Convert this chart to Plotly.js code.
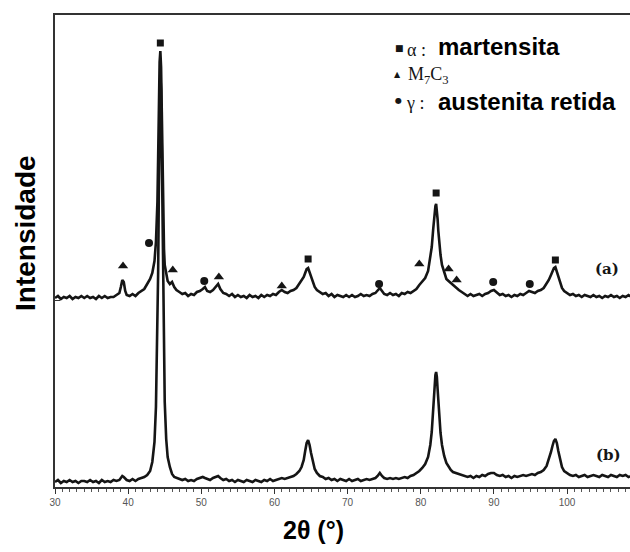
<!DOCTYPE html>
<html>
<head>
<meta charset="utf-8">
<script src="https://cdn.plot.ly/plotly-3.0.1.min.js"></script>
<style>
  html, body { margin: 0; padding: 0; background: #fff; }
  #chart { width: 630px; height: 552px; }
</style>
</head>
<body>
<div id="chart"></div>
<script>
// 2θ grid shared by both diffractograms (degrees)
const twoTheta = [
  30.0,30.4,30.8,31.2,31.6,32.0,32.4,32.8,33.2,33.6,
  34.0,34.4,34.8,35.2,35.6,36.0,36.4,36.8,37.2,37.6,
  38.0,38.4,38.8,39.0,39.2,39.4,39.6,39.8,40.2,40.6,
  41.0,41.4,41.8,42.2,42.6,43.0,43.3,43.6,43.8,44.0,
  44.1,44.2,44.3,44.4,44.5,44.6,44.7,44.8,44.9,45.0,
  45.2,45.4,45.7,46.0,46.3,46.6,47.0,47.4,47.8,48.2,
  48.6,49.0,49.4,49.8,50.2,50.5,50.8,51.2,51.6,52.0,
  52.3,52.6,53.0,53.4,53.8,54.2,54.6,55.0,55.4,55.8,
  56.2,56.6,57.0,57.4,57.8,58.2,58.6,59.0,59.4,59.8,
  60.2,60.6,61.0,61.4,61.8,62.2,62.6,63.0,63.4,63.7,
  64.0,64.2,64.4,64.6,64.8,65.0,65.2,65.5,65.8,66.2,
  66.6,67.0,67.4,67.8,68.2,68.6,69.0,69.4,69.8,70.2,
  70.6,71.0,71.4,71.8,72.2,72.6,73.0,73.4,73.8,74.1,
  74.4,74.7,75.0,75.4,75.8,76.2,76.6,77.0,77.4,77.8,
  78.2,78.6,79.0,79.4,79.8,80.2,80.6,81.0,81.3,81.5,
  81.7,81.8,81.9,82.0,82.1,82.2,82.3,82.4,82.5,82.7,
  82.9,83.2,83.5,83.8,84.1,84.4,84.8,85.2,85.6,86.0,
  86.4,86.8,87.2,87.6,88.0,88.4,88.8,89.2,89.6,90.0,
  90.4,90.8,91.2,91.6,92.0,92.4,92.8,93.2,93.6,94.0,
  94.4,94.8,95.2,95.6,96.0,96.4,96.8,97.2,97.5,97.8,
  98.0,98.2,98.4,98.6,98.8,99.0,99.3,99.6,100.0,100.4,
  100.8,101.2,101.6,102.0,102.4,102.8,103.2,103.6,104.0,104.4,
  104.8,105.2,105.6,106.0,106.4,106.8,107.2,107.6,108.0,108.4,
  108.8
];

// Pattern (a), drawn with its vertical offset (arb. units)
const intensityA = [
  189,191,188,190,189,191,188,190,189,191,
  189,191,189,190,188,191,189,191,189,190,
  190,192,194,200,207,205,196,192,191,193,
  191,194,196,198,203,208,214,226,245,285,
  330,385,425,436,420,375,320,270,238,222,
  212,206,203,205,200,197,195,193,194,191,
  193,192,195,196,198,200,196,195,197,200,
  203,198,194,193,191,193,190,192,190,191,
  189,192,190,191,189,192,190,192,191,193,
  192,195,197,195,194,196,197,199,203,206,
  210,214,218,219,215,210,205,200,197,195,
  193,194,191,193,190,192,191,190,192,190,
  192,190,191,193,191,192,191,193,194,196,
  199,196,193,192,194,192,193,191,194,193,
  195,194,196,198,202,205,209,216,228,240,
  258,268,276,281,283,278,268,256,246,232,
  222,214,208,206,204,202,199,197,195,193,
  191,193,191,192,193,191,193,194,196,197,
  194,192,193,191,192,190,192,191,193,192,
  194,196,195,194,196,197,199,203,207,212,
  216,219,220,215,209,204,199,196,194,192,
  193,191,192,190,192,191,190,192,190,191,
  189,191,190,192,190,191,189,191,190,192,
  190
];

// Pattern (b)
const intensityB = [
  5,7,4,6,5,7,5,6,4,6,
  6,5,7,5,6,4,7,5,6,5,
  7,6,7,9,11,10,8,7,6,8,
  6,8,9,10,12,16,25,45,80,150,
  215,300,370,412,398,330,250,175,130,85,
  48,30,20,13,10,9,8,7,8,6,
  7,6,8,9,10,9,8,7,9,10,
  11,9,7,8,6,7,5,7,6,5,
  7,6,5,7,6,5,7,6,8,6,
  7,8,9,8,9,10,11,13,16,20,
  27,36,44,47,42,34,26,18,14,11,
  10,8,9,7,8,6,8,7,6,8,
  6,7,8,6,7,8,7,8,9,11,
  14,11,9,8,9,8,9,8,9,10,
  9,11,12,14,16,19,23,30,42,55,
  78,92,104,112,115,110,98,84,72,54,
  42,31,24,20,17,15,14,13,12,11,
  10,11,9,11,10,12,11,13,14,14,
  12,11,12,10,11,9,11,10,11,12,
  11,12,13,12,14,15,17,21,27,35,
  41,46,48,44,36,28,20,16,14,12,
  11,12,10,11,12,10,11,12,11,10,
  12,11,10,12,11,10,12,11,12,10,
  11
];

// Phase identification marks on pattern (a)
const martensitaPos = [44.4, 64.6, 82.1, 98.4];
const martensitaY   = [444, 228, 294, 227];
const m7c3Pos = [39.3, 46.1, 52.4, 61.0, 79.8, 83.8, 84.9];
const m7c3Y   = [221, 217, 210, 201, 223, 218, 207];
const austenitaPos = [42.85, 50.4, 74.3, 89.9, 94.9];
const austenitaY   = [244, 206, 203, 205, 203];

const xTicks = [30, 40, 50, 60, 70, 80, 90, 100];
const xTickText = ['30', '40', '50', '60', '70', '80', '90', '100'];

const ink = '#151515';

const traces = [
  { x: twoTheta, y: intensityA, type: 'scatter', mode: 'lines',
    line: { color: ink, width: 2.6 }, hoverinfo: 'skip' },
  { x: twoTheta, y: intensityB, type: 'scatter', mode: 'lines',
    line: { color: ink, width: 2.6 }, hoverinfo: 'skip' },
  { x: martensitaPos, y: martensitaY, type: 'scatter', mode: 'markers',
    marker: { symbol: 'square', size: 7, color: ink }, hoverinfo: 'skip' },
  { x: m7c3Pos, y: m7c3Y, type: 'scatter', mode: 'markers',
    marker: { symbol: 'triangle-up', size: 9, color: ink }, hoverinfo: 'skip' },
  { x: austenitaPos, y: austenitaY, type: 'scatter', mode: 'markers',
    marker: { symbol: 'circle', size: 8, color: ink }, hoverinfo: 'skip' }
];

// plot area in pixels: left 55, right 630, top 15, bottom 487
const px = v => (v - 55) / 575;
const py = v => (487 - v) / 472;

const serif = 'Liberation Serif, DejaVu Serif, serif';
const sans = 'Liberation Sans, Arial, sans-serif';

function note(text, x, y, font, xanchor) {
  return { xref: 'paper', yref: 'paper', x: px(x), y: py(y), text: text,
    showarrow: false, xanchor: xanchor || 'left', yanchor: 'middle',
    font: font };
}

const annotations = [
  // key
  note('■', 393, 48, { family: 'DejaVu Sans', size: 9, color: ink }),
  note('α :', 405, 50, { family: serif, size: 18, color: ink }),
  note('<b>martensita</b>', 436, 46, { family: sans, size: 24, color: '#000' }),
  note('▲', 392, 74, { family: 'DejaVu Sans', size: 8, color: ink }),
  note('M<sub>7</sub>C<sub>3</sub>', 406, 75, { family: serif, size: 18, color: ink }),
  note('●', 393, 101, { family: 'DejaVu Sans', size: 8, color: ink }),
  note('γ :', 404, 103, { family: serif, size: 18, color: ink }),
  note('<b>austenita retida</b>', 436, 102, { family: sans, size: 24, color: '#000' }),
  // pattern labels
  note('<b>(a)</b>', 607, 269, { family: 'DejaVu Serif', size: 15, color: ink }, 'center'),
  note('<b>(b)</b>', 608, 455, { family: 'DejaVu Serif', size: 15, color: ink }, 'center'),
  // axis titles
  { xref: 'paper', yref: 'paper', x: px(25), y: py(233), text: '<b>Intensidade</b>',
    textangle: -90, showarrow: false, xanchor: 'center', yanchor: 'middle',
    font: { family: sans, size: 28, color: '#000' } },
  { xref: 'paper', yref: 'paper', x: px(313), y: py(530), text: '<b>2θ (°)</b>',
    showarrow: false, xanchor: 'center', yanchor: 'middle',
    font: { family: sans, size: 25, color: '#000' } }
];

const layout = {
  width: 630, height: 552,
  margin: { l: 55, r: 0, t: 15, b: 65 },
  paper_bgcolor: '#fff', plot_bgcolor: '#fff',
  showlegend: false,
  xaxis: {
    range: [30, 108.6],
    tickvals: xTicks, ticktext: xTickText,
    ticks: 'outside', ticklen: 5, tickwidth: 1, tickcolor: '#333',
    minor: { dtick: 1, ticks: 'outside', ticklen: 2.5, tickcolor: '#555', tickwidth: 1 },
    showline: true, linecolor: '#333', linewidth: 2, mirror: true,
    showgrid: false, zeroline: false,
    tickfont: { family: sans, size: 10, color: '#555' }
  },
  yaxis: {
    range: [0, 472],
    tickvals: [187], ticks: 'inside', ticklen: 5, tickcolor: '#333',
    showticklabels: false,
    showline: true, linecolor: '#333', linewidth: 2,
    showgrid: false, zeroline: false
  },
  annotations: annotations
};

Plotly.newPlot('chart', traces, layout, { staticPlot: true, displayModeBar: false });
</script>
</body>
</html>
